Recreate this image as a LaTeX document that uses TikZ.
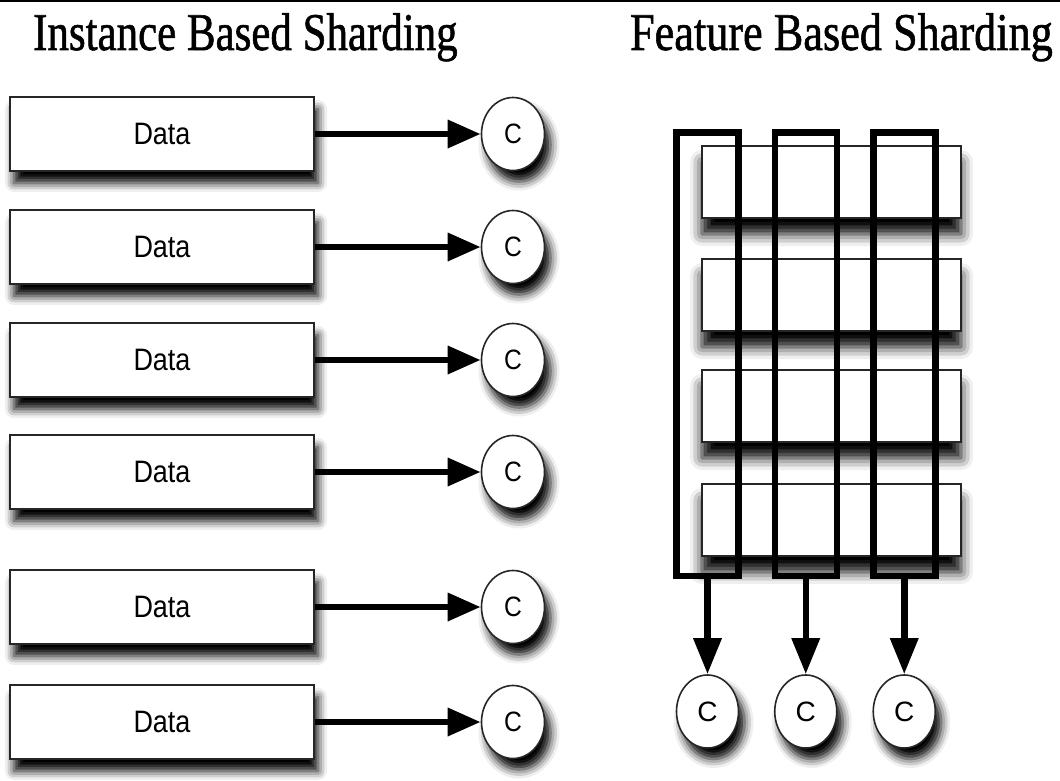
\documentclass[tikz,border=0pt]{standalone}
\usepackage{graphicx}
\usepackage{fontspec}
\setmainfont{Liberation Serif}
\newfontfamily\headfont[FakeBold=1.2]{Liberation Serif}
\newfontfamily\labelfont{Liberation Sans}
\usetikzlibrary{shapes.geometric,arrows.meta,shadows.blur}

\begin{document}
\begin{tikzpicture}[x=1pt,y=-1pt,
  titletext/.style={inner sep=0pt, font=\fontsize{53}{60}\headfont},
  databox/.style={draw=black!85, line width=2.2pt, fill=white,
    minimum width=304pt, minimum height=74pt, inner sep=0pt,
    font=\fontsize{31}{34}\labelfont,
    blur shadow={shadow xshift=4pt, shadow yshift=-12pt,
      shadow blur radius=9pt, shadow opacity=100}},
  consumer/.style={ellipse, draw=black!85, line width=1.6pt, fill=white,
    minimum width=63pt, minimum height=73pt, inner sep=0pt,
    font=\fontsize{28}{32}\labelfont,
    blur shadow={shadow xshift=6pt, shadow yshift=-11pt,
      shadow blur radius=9pt, shadow opacity=100}},
  rowbox/.style={draw=black!85, line width=1.5pt, fill=white,
    minimum width=259pt, minimum height=72pt, inner sep=0pt,
    blur shadow={shadow xshift=0pt, shadow yshift=-16pt,
      shadow blur radius=12pt, shadow opacity=100}},
  colframe/.style={draw=black, line width=6.5pt,
    minimum width=62pt, minimum height=443.5pt, inner sep=0pt},
  harrow/.style={line width=6.5pt, -{Triangle[length=33pt,width=27pt]}},
  varrow/.style={line width=6.5pt, -{Triangle[length=36pt,width=27pt]}}
]
\useasboundingbox (0,0) rectangle (1060,781);

% rule along the upper edge
\draw[line width=2.5pt] (0,1.2) -- (1060,1.2);

% headings
\node[titletext, anchor=base west] (tinst) at (33,50)
  {\scalebox{0.81}[1]{Instance Based Sharding}};
\node[titletext, anchor=base east] (tfeat) at (1053,50)
  {\scalebox{0.835}[1]{Feature Based Sharding}};

% instance based: each data shard feeds its own consumer
\foreach \i/\y in {1/134, 2/247, 3/360, 4/472, 5/607, 6/722} {
  \node[databox] (d\i) at (162,\y) {\scalebox{0.87}[1]{Data}};
  \node[consumer] (c\i) at (513,\y) {\scalebox{0.88}[1]{C}};
  \draw[harrow] (d\i.east) -- (c\i.west);
}

% feature based: rows of the data matrix
\foreach \r/\y in {1/182, 2/295, 3/406, 4/520} {
  \node[rowbox] (row\r) at (831.5,\y) {};
}

% column groups and their consumers
\foreach \k/\x in {1/707.5, 2/805.75, 3/904.25} {
  \node[colframe] (col\k) at (\x,354.25) {};
  \node[consumer, minimum width=62pt] (fc\k) at (\x,711.5) {C};
  \draw[varrow] (col\k.south) -- (fc\k.north);
}
\end{tikzpicture}
\end{document}
